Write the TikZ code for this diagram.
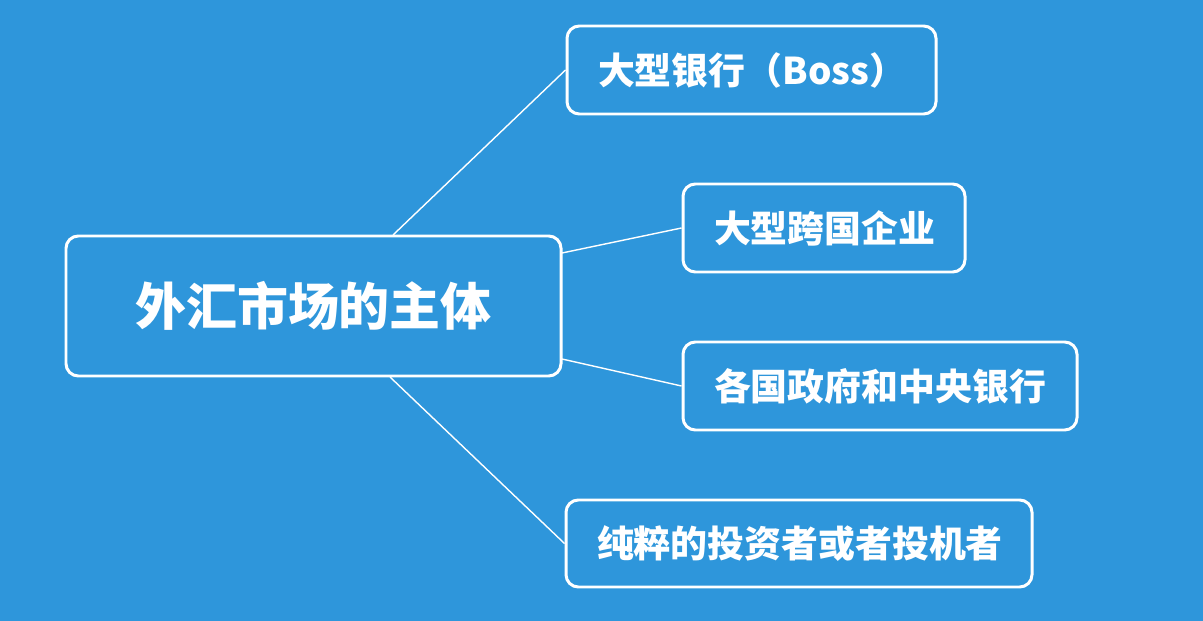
\documentclass[tikz,border=0pt]{standalone}
\usepackage{fontspec}
\newfontfamily\cjk{Noto Sans CJK SC}
\usetikzlibrary{calc}

\begin{document}
\begin{tikzpicture}[x=0.02cm, y=-0.02cm,
            topic/.style={draw=white, line width=1.7pt, rounded corners=7pt, text=white,
                font=\cjk\bfseries, inner sep=0pt, anchor=center},
            subtopic/.style={topic, font=\cjk\bfseries\fontsize{21}{24}\selectfont,
                inner xsep=31*0.02cm, text width=#1*0.02cm-62*0.02cm, align=left},
            branch/.style={draw=white, line width=0.8pt}
        ]
            \fill[fill={rgb,255:red,46;green,150;blue,219}] (0,0) rectangle (1203,621);
            \useasboundingbox (0,0) rectangle (1203,621);

            % main topic
            \node[topic, minimum width=495*0.02cm, minimum height=140*0.02cm, font=\cjk\bfseries\fontsize{29}{34}\selectfont] (main) at (313.5,306) {外汇市场的主体};

            % sub topics
            \node[subtopic=369, minimum height=88*0.02cm] (bank) at (751.5,70) {大型银行（Boss）};
            \node[subtopic=282, minimum height=88*0.02cm] (corp) at (824,228) {大型跨国企业};
            \node[subtopic=394, minimum height=88*0.02cm] (gov) at (880,386) {各国政府和中央银行};
            \node[subtopic=466, minimum height=87*0.02cm] (spec) at (799,543.5) {纯粹的投资者或者投机者};

            \coordinate (m1) at (393,235);
            \coordinate (m2) at (562,253);
            \coordinate (m3) at (562,359);
            \coordinate (m4) at (390,377);

            \draw[branch] (m1) -- (bank.west);
            \draw[branch] (m2) -- (corp.west);
            \draw[branch] (m3) -- (gov.west);
            \draw[branch] (m4) -- (spec.west);
        \end{tikzpicture}
\end{document}
